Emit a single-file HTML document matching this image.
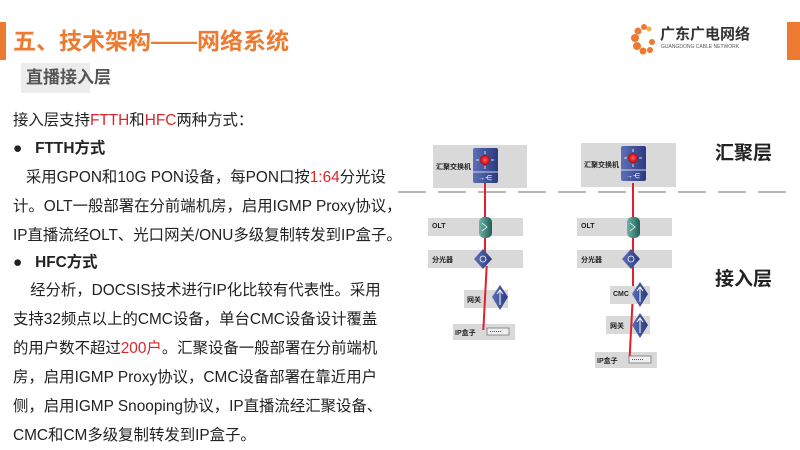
<!DOCTYPE html>
<html><head><meta charset="utf-8"><style>
body{margin:0;width:800px;height:450px;overflow:hidden;background:#fff;position:relative;font-family:"Liberation Sans","Noto Sans CJK SC",sans-serif;}
.a{position:absolute;white-space:nowrap;}
.t{font-size:15.4px;color:#222;left:13px;line-height:20px;}
.r{color:#d9262b;}
.box{position:absolute;background:#d9d9d9;}
.lb{position:absolute;font-size:7px;font-weight:bold;color:#222;white-space:nowrap;}
.red{position:absolute;width:2px;background:#e0202a;}
</style></head><body>
<div class="a" style="left:0;top:22px;width:6px;height:38px;background:#ec7a30"></div>
<div class="a" style="left:787px;top:22px;width:13px;height:38px;background:#ec7a30"></div>
<div class="a" style="left:13px;top:26px;font-size:23px;font-weight:bold;color:#ec7a30;line-height:30px">五、技术架构——网络系统</div>
<div class="a" style="left:21px;top:63px;width:69px;height:30px;background:#ececec"></div>
<div class="a" style="left:26px;top:66px;font-size:17px;font-weight:bold;color:#555;line-height:24px">直播接入层</div>
<svg class="a" style="left:630px;top:22px" width="30" height="34"><g fill="#ec7a30"><circle cx="14" cy="5" r="3"/><circle cx="8" cy="9" r="3.5"/><circle cx="5" cy="16" r="4"/><circle cx="7" cy="24" r="4"/><circle cx="13" cy="29" r="3.5"/><circle cx="20" cy="28" r="3"/><circle cx="22" cy="20" r="3"/></g><circle cx="19" cy="7" r="2.5" fill="#f3b13a"/></svg>
<div class="a" style="left:660px;top:26px;font-size:15px;font-weight:bold;color:#333;line-height:18px">广东广电网络</div>
<div class="a" style="left:661px;top:44px;font-size:5px;color:#555;line-height:6px">GUANGDONG CABLE NETWORK</div>

<div class="a t" style="top:111px">接入层支持<span class="r">FTTH</span>和<span class="r">HFC</span>两种方式：</div>
<div class="a t" style="top:139px;font-weight:bold">●&nbsp;&nbsp;&nbsp;FTTH方式</div>
<div class="a t" style="top:168px">&nbsp;&nbsp;&nbsp;采用GPON和10G PON设备，每PON口按<span class="r">1:64</span>分光设</div>
<div class="a t" style="top:197px">计。OLT一般部署在分前端机房，启用IGMP Proxy协议，</div>
<div class="a t" style="top:226px">IP直播流经OLT、光口网关/ONU多级复制转发到IP盒子。</div>
<div class="a t" style="top:253px;font-weight:bold">●&nbsp;&nbsp;&nbsp;HFC方式</div>
<div class="a t" style="top:281px">&nbsp;&nbsp;&nbsp;&nbsp;经分析，DOCSIS技术进行IP化比较有代表性。采用</div>
<div class="a t" style="top:310px">支持32频点以上的CMC设备，单台CMC设备设计覆盖</div>
<div class="a t" style="top:339px">的用户数不超过<span class="r">200户</span>。汇聚设备一般部署在分前端机</div>
<div class="a t" style="top:368px">房，启用IGMP Proxy协议，CMC设备部署在靠近用户</div>
<div class="a t" style="top:397px">侧，启用IGMP Snooping协议，IP直播流经汇聚设备、</div>
<div class="a t" style="top:426px">CMC和CM多级复制转发到IP盒子。</div>

<svg class="a" style="left:0;top:0" width="800" height="450"><line x1="398" y1="192" x2="790" y2="192" stroke="#888" stroke-width="1.3" stroke-dasharray="28,12"/></svg>

<div class="box" style="left:433px;top:145px;width:94px;height:43px"></div>
<div class="box" style="left:428px;top:218px;width:95px;height:18px"></div>
<div class="box" style="left:428px;top:250px;width:95px;height:18px"></div>
<div class="box" style="left:464px;top:290px;width:44px;height:18px"></div>
<div class="box" style="left:453px;top:324px;width:62px;height:16px"></div>
<div class="red" style="left:484px;top:183px;height:40px"></div>
<div class="red" style="left:484px;top:236px;height:18px"></div>
<div class="red" style="left:484px;top:266px;height:64px;transform:skewX(-3deg)"></div>
<div class="box" style="left:581px;top:143px;width:95px;height:44px"></div>
<div class="box" style="left:577px;top:218px;width:95px;height:18px"></div>
<div class="box" style="left:577px;top:250px;width:95px;height:18px"></div>
<div class="box" style="left:610px;top:286px;width:40px;height:18px"></div>
<div class="box" style="left:606px;top:316px;width:44px;height:18px"></div>
<div class="box" style="left:595px;top:352px;width:62px;height:16px"></div>
<div class="red" style="left:632px;top:183px;height:40px"></div>
<div class="red" style="left:632px;top:236px;height:50px"></div>
<div class="red" style="left:630px;top:304px;height:54px;transform:skewX(-3deg)"></div>

<svg class="a" style="left:0;top:0" width="800" height="450">
<defs>
<linearGradient id="sw" x1="0" x2="1"><stop offset="0" stop-color="#5c6fb8"/><stop offset="1" stop-color="#2a3a80"/></linearGradient>
<linearGradient id="olt" x1="0" x2="1"><stop offset="0" stop-color="#6fb3a8"/><stop offset="1" stop-color="#1f5e57"/></linearGradient>
<radialGradient id="rd"><stop offset="0" stop-color="#ff6060"/><stop offset="1" stop-color="#c00000"/></radialGradient>
</defs>
<g id="swg">
<rect x="473" y="148" width="25" height="35" rx="2" fill="url(#sw)"/>
<line x1="473" y1="172" x2="498" y2="172" stroke="#fff" stroke-width="0.7"/>
<circle cx="485" cy="160" r="5" fill="url(#rd)"/>
<g stroke="#fff" stroke-width="0.8"><line x1="485" y1="151" x2="485" y2="154"/><line x1="476" y1="160" x2="479" y2="160"/><line x1="491" y1="160" x2="494" y2="160"/><line x1="485" y1="166" x2="485" y2="169"/></g>
<text x="485" y="180" font-size="7" fill="#fff" text-anchor="middle">→⋲</text>
</g>
<use href="#swg" x="148" y="-2"/>
<g id="oltg"><rect x="479" y="217" width="13" height="21" rx="5" fill="url(#olt)"/><path d="M482 223 l5 4 l-5 4" stroke="#fff" stroke-width="0.8" fill="none"/></g>
<use href="#oltg" x="148"/>
<g id="spg"><path d="M483 249 l9 10 l-9 10 l-9 -10z" fill="url(#sw)"/><circle cx="483" cy="259" r="3" fill="none" stroke="#fff" stroke-width="0.8"/></g>
<use href="#spg" x="148"/>
<g id="gw"><path d="M500 285 l8 12 l-8 13 l-8 -13z" fill="url(#sw)"/><path d="M500 290 v15 M497 294 l3 -4 l3 4" stroke="#fff" stroke-width="1" fill="none"/></g>
<use href="#gw" x="140" y="-3"/>
<use href="#gw" x="140" y="28"/>
<g id="ipb"><rect x="487" y="328" width="22" height="7" fill="#eee" stroke="#777" stroke-width="0.8"/><line x1="490" y1="331.5" x2="502" y2="331.5" stroke="#555" stroke-dasharray="1,1"/></g>
<use href="#ipb" x="142" y="28"/>
</svg>
<div class="lb" style="left:436px;top:162px">汇聚交换机</div>
<div class="lb" style="left:584px;top:160px">汇聚交换机</div>
<div class="lb" style="left:432px;top:223px">OLT</div>
<div class="lb" style="left:581px;top:223px">OLT</div>
<div class="lb" style="left:432px;top:255px">分光器</div>
<div class="lb" style="left:581px;top:255px">分光器</div>
<div class="lb" style="left:467px;top:295px">网关</div>
<div class="lb" style="left:613px;top:291px">CMC</div>
<div class="lb" style="left:610px;top:321px">网关</div>
<div class="lb" style="left:455px;top:328px">IP盒子</div>
<div class="lb" style="left:597px;top:356px">IP盒子</div>
<div class="a" style="left:715px;top:142px;font-size:19px;font-weight:bold;color:#222;line-height:24px">汇聚层</div>
<div class="a" style="left:715px;top:268px;font-size:19px;font-weight:bold;color:#222;line-height:24px">接入层</div>
</body></html>
